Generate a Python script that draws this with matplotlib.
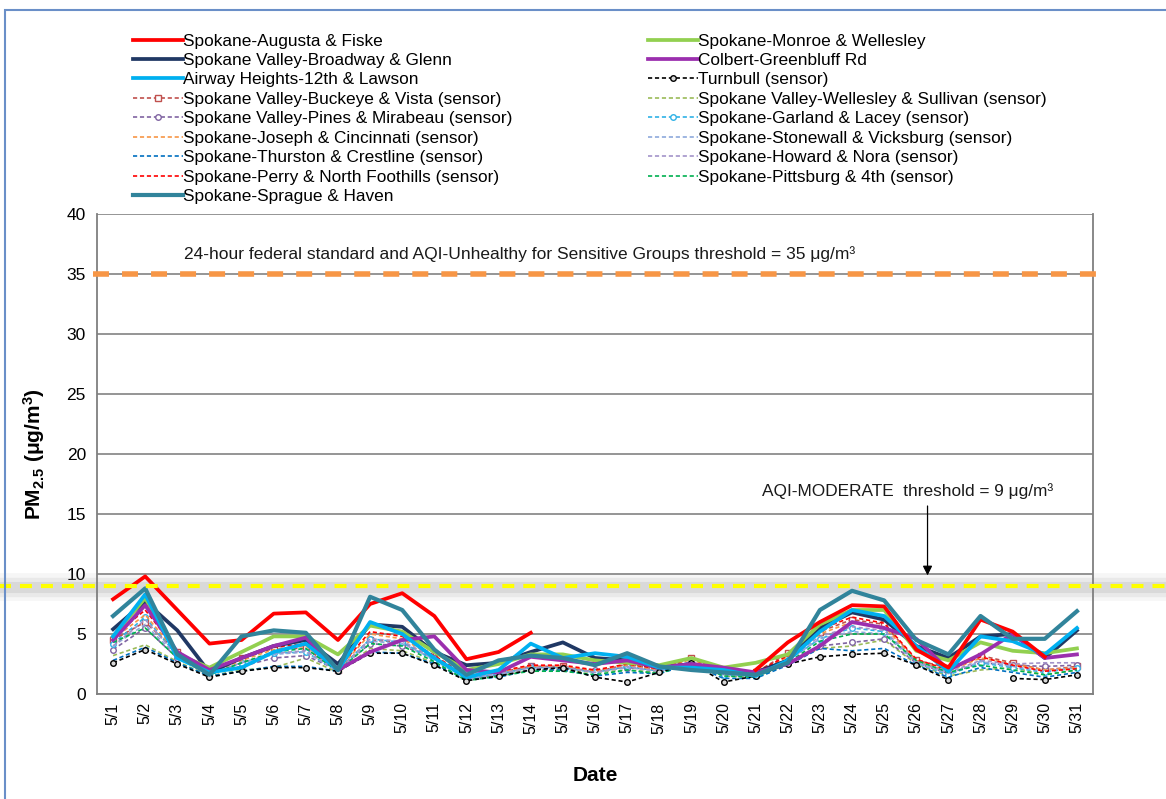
import numpy as np
import matplotlib
matplotlib.use("Agg")
import matplotlib.pyplot as plt
from matplotlib.patches import Rectangle

plt.rcParams['font.family'] = ['Liberation Sans', 'DejaVu Sans']
plt.rcParams['mathtext.fontset'] = 'custom'
plt.rcParams['mathtext.rm'] = 'Liberation Sans'
plt.rcParams['mathtext.bf'] = 'Liberation Sans:bold'
plt.rcParams['mathtext.default'] = 'bf'
plt.rcParams['lines.scale_dashes'] = False

nan = np.nan
dates = [f"5/{d}" for d in range(1, 32)]

augusta = [7.9, 9.8, 7.0, 4.2, 4.5, 6.7, 6.8, 4.5, 7.5, 8.4, 6.5, 2.9, 3.5, 5.1,
           nan, nan, nan, nan, nan, nan, 2.0, 4.3, 6.0, 7.4, 7.3, 3.7, 2.2, 6.2, 5.2, 3.1, nan]
monroe = [4.8, 8.0, 3.3, 2.2, 3.5, 4.8, 4.8, 3.3, 5.7, 5.2, 3.5, 2.0, 2.5, 3.3, 3.3,
          2.8, 2.6, 2.4, 3.0, 2.2, 2.6, 3.3, 5.8, 7.0, 7.0, 3.6, 2.8, 4.3, 3.6, 3.4, 3.8]
broadway = [5.4, 7.7, 5.3, 1.8, 3.0, 4.0, 4.5, 2.5, 5.8, 5.6, 3.5, 2.4, 2.6, 3.5, 4.3,
            3.0, 2.8, 2.2, 2.5, 1.8, 1.8, 2.8, 5.5, 6.8, 6.2, 4.0, 3.0, 4.8, 5.0, 3.0, 5.3]
colbert = [4.5, 7.4, 3.5, 2.0, 3.0, 4.0, 4.7, 2.0, 3.5, 4.5, 4.8, 2.0, 1.8, 3.1, 2.8,
           2.5, 2.8, 2.2, 2.5, 2.2, 1.8, 2.5, 4.0, 6.0, 5.5, 4.6, 2.0, 3.3, 5.0, 3.0, 3.3]
airway = [4.8, 8.3, 3.0, 1.8, 2.2, 3.5, 4.2, 2.0, 6.0, 5.0, 3.0, 1.4, 2.0, 4.2, 3.0,
          3.4, 3.1, 2.2, 2.2, 2.0, 1.5, 2.8, 5.2, 7.0, 6.5, 4.0, 1.9, 4.8, 4.4, 3.3, 5.5]
turnbull = [2.6, 3.7, 2.5, 1.4, 1.9, 2.2, 2.2, 1.9, 3.4, 3.4, 2.4, 1.1, 1.5, 2.0, 2.2,
            1.4, 1.0, 1.8, 2.6, 1.0, 1.5, 2.5, 3.1, 3.3, 3.4, 2.4, 1.2, nan, 1.3, 1.2, 1.6]
buckeye = [4.5, 6.0, 3.5, 1.7, 3.0, 3.8, 3.8, 2.0, 4.5, 4.3, 3.0, 1.5, 1.8, 2.3, 2.3,
           1.8, 2.5, 2.0, 3.0, 1.8, 1.8, 3.4, 5.2, 6.2, 5.8, 2.8, 2.2, 3.2, 2.6, 2.0, 2.3]
wellesley_sullivan = [3.2, 4.1, 2.7, 1.5, 2.0, 2.2, 3.0, 1.8, 3.8, 3.6, 2.6, 1.2, 1.5, 2.0, 2.0,
                      1.8, 2.0, 1.8, 2.5, 1.5, 1.4, 2.5, 3.8, 4.0, 4.5, 2.5, 1.5, 2.0, 2.2, 1.6, 2.0]
pines = [3.7, 5.5, 3.0, 1.8, 2.3, 3.0, 3.2, 2.0, 4.2, 4.0, 3.0, 1.3, 1.6, 2.3, 2.2,
         2.0, 2.2, 2.0, 2.6, 1.6, 1.6, 2.6, 4.0, 4.3, 4.6, 2.6, 1.7, 2.6, 2.4, 2.3, 2.4]
garland = [4.2, 6.4, 3.2, 1.6, 2.6, 3.4, 3.5, 1.9, 4.6, 4.3, 2.8, 1.3, 1.7, 2.2, 2.2,
           1.8, 2.3, 1.9, 2.7, 1.6, 1.5, 2.8, 4.6, 5.5, 5.2, 2.6, 1.6, 2.6, 2.2, 1.8, 2.2]
joseph = [4.6, 6.6, 3.4, 1.7, 2.8, 3.7, 4.0, 2.0, 5.0, 4.6, 3.1, 1.5, 1.8, 2.3, 2.3,
          1.9, 2.4, 2.0, 2.9, 1.7, 1.7, 3.1, 5.0, 6.0, 5.6, 2.8, 1.9, 3.0, 2.5, 2.0, 2.2]
stonewall = [4.0, 5.8, 3.1, 1.6, 2.6, 3.3, 3.5, 1.9, 4.4, 4.2, 2.9, 1.3, 1.6, 2.2, 2.2,
             1.8, 2.2, 1.9, 2.7, 1.6, 1.5, 2.8, 4.6, 5.2, 5.0, 2.6, 1.7, 2.7, 2.3, 1.9, 2.2]
thurston = [2.8, 3.9, 2.6, 1.5, 1.9, 2.3, 2.3, 1.9, 3.5, 3.4, 2.5, 1.2, 1.4, 2.0, 2.0,
            1.5, 1.8, 1.7, 2.5, 1.3, 1.3, 2.4, 3.8, 3.6, 3.8, 2.4, 1.4, 2.2, 1.8, 1.4, 1.8]
howard = [4.0, 6.2, 3.2, 1.7, 2.6, 3.4, 3.6, 1.9, 4.6, 4.4, 3.0, 1.4, 1.7, 2.2, 2.2,
          1.8, 2.3, 1.9, 2.7, 1.6, 1.6, 2.9, 4.8, 5.6, 5.3, 2.7, 1.8, 2.8, 2.5, 2.6, 2.6]
perry = [4.8, 7.0, 3.6, 1.8, 3.0, 3.9, 4.2, 2.1, 5.2, 4.8, 3.2, 1.5, 1.9, 2.4, 2.4,
         2.0, 2.5, 2.1, 3.0, 1.8, 1.8, 3.2, 5.4, 6.4, 5.9, 2.9, 2.0, 3.1, 2.4, 1.9, 2.1]
pittsburg = [4.3, 5.5, 3.0, 1.6, 2.6, 3.5, 3.8, 1.9, 4.2, 4.0, 2.7, 1.1, 1.5, 1.9, 1.9,
             1.6, 2.0, 1.7, 2.6, 1.5, 1.4, 2.6, 4.4, 5.0, 5.0, 2.8, 1.8, 2.4, 2.0, 1.6, 2.0]
sprague = [6.5, 8.8, 3.3, 1.6, 4.8, 5.3, 5.1, 2.0, 8.1, 7.0, 3.7, 1.6, 2.8, 3.2, 3.0,
           2.4, 3.4, 2.3, 2.0, 1.8, 1.6, 2.6, 7.0, 8.6, 7.8, 4.5, 3.3, 6.5, 4.6, 4.6, 6.9]

federal_std = 35
moderate = 9

fig = plt.figure(figsize=(11.66, 7.99), dpi=100)
W, H = 1166, 799
ax = fig.add_axes([97 / W, 1 - 694 / H, (1093 - 97) / W, (694 - 214) / H])

x = np.arange(len(dates))
sd = (0, (3, 2))

sensors = [
    ("Spokane Valley-Buckeye & Vista (sensor)", buckeye, '#C0504D', 's'),
    ("Spokane Valley-Wellesley & Sullivan (sensor)", wellesley_sullivan, '#9BBB59', None),
    ("Spokane Valley-Pines & Mirabeau (sensor)", pines, '#8064A2', 'o'),
    ("Spokane-Garland & Lacey (sensor)", garland, '#2FB2E6', 'o'),
    ("Spokane-Joseph & Cincinnati (sensor)", joseph, '#F79646', None),
    ("Spokane-Stonewall & Vicksburg (sensor)", stonewall, '#8EA9DB', None),
    ("Spokane-Thurston & Crestline (sensor)", thurston, '#0070C0', None),
    ("Spokane-Howard & Nora (sensor)", howard, '#A393C9', None),
    ("Spokane-Perry & North Foothills (sensor)", perry, '#FF0000', None),
    ("Spokane-Pittsburg & 4th (sensor)", pittsburg, '#00B050', None),
    ("Turnbull (sensor)", turnbull, '#000000', 'o'),
]
handles = {}
for name, vals, col, mk in sensors:
    kw = {}
    if mk:
        kw = dict(marker=mk, markersize=4, markerfacecolor='#D9D9D9' if col == '#000000' else 'white',
                  markeredgecolor=col, markeredgewidth=1.0)
    ln, = ax.plot(x, vals, color=col, lw=1.2, linestyle=sd, label=name, zorder=3, **kw)
    handles[name] = ln

solids = [
    ("Spokane Valley-Broadway & Glenn", broadway, '#203864', 2.7),
    ("Spokane-Monroe & Wellesley", monroe, '#92D050', 2.7),
    ("Colbert-Greenbluff Rd", colbert, '#9B2FAE', 2.7),
    ("Airway Heights-12th & Lawson", airway, '#00B0F0', 2.7),
    ("Spokane-Augusta & Fiske", augusta, '#FF0000', 2.7),
    ("Spokane-Sprague & Haven", sprague, '#31849B', 3.0),
]
for name, vals, col, lw in solids:
    ln, = ax.plot(x, vals, color=col, lw=lw, label=name, zorder=4)
    handles[name] = ln

# threshold lines
ax.axhline(federal_std, xmin=-0.004, xmax=1.005, color='#F79646', lw=4,
           dashes=(11.5, 9.4), zorder=5, clip_on=False)
for w, a in [(20, 0.07), (14, 0.10), (8, 0.15)]:
    ax.axhline(moderate - 0.1, xmin=-0.1, xmax=1.08, color='#808080', lw=w,
               alpha=a, zorder=2, clip_on=False, solid_capstyle='butt')
ax.axhline(moderate, xmin=-0.1, xmax=1.08, color='#FFFF00', lw=3,
           dashes=(8.6, 6.5), zorder=5, clip_on=False)

ax.text(2.2, 36.7, "24-hour federal standard and AQI-Unhealthy for Sensitive Groups threshold = 35 \u03bcg/m\u00b3",
        fontsize=12.5, va='center', ha='left', color='#1a1a1a')
ax.text(20.2, 16.9, "AQI-MODERATE  threshold = 9 \u03bcg/m\u00b3",
        fontsize=12.4, va='center', ha='left', color='#1a1a1a')
ax.annotate("", xy=(25.35, 9.65), xytext=(25.35, 15.9),
            arrowprops=dict(arrowstyle='-|>', color='black', lw=0.9, mutation_scale=14))

ax.set_xlim(-0.5, len(dates) - 0.5)
ax.set_ylim(0, 40)
ax.set_yticks(range(0, 41, 5))
ax.set_xticks(x)
ax.set_xticklabels(dates, rotation=90, fontsize=11.5)
ax.tick_params(axis='y', labelsize=12.5, length=0, pad=8)
ax.tick_params(axis='x', length=0, pad=6)
ax.grid(axis='y', color='#8C8C8C', lw=1.3, zorder=1)
ax.set_axisbelow(True)
for s in ax.spines.values():
    s.set_color('#7F7F7F')
    s.set_linewidth(1.3)
ax.spines['top'].set_visible(False)

ax.set_ylabel("PM$_{2.5}$ (\u03bcg/m$^{3}$)", fontsize=15, fontweight='bold', labelpad=14)
ax.set_xlabel("Date", fontsize=15, fontweight='bold', labelpad=23)

left_names = ["Spokane-Augusta & Fiske", "Spokane Valley-Broadway & Glenn",
              "Airway Heights-12th & Lawson", "Spokane Valley-Buckeye & Vista (sensor)",
              "Spokane Valley-Pines & Mirabeau (sensor)", "Spokane-Joseph & Cincinnati (sensor)",
              "Spokane-Thurston & Crestline (sensor)", "Spokane-Perry & North Foothills (sensor)",
              "Spokane-Sprague & Haven"]
right_names = ["Spokane-Monroe & Wellesley", "Colbert-Greenbluff Rd", "Turnbull (sensor)",
               "Spokane Valley-Wellesley & Sullivan (sensor)", "Spokane-Garland & Lacey (sensor)",
               "Spokane-Stonewall & Vicksburg (sensor)", "Spokane-Howard & Nora (sensor)",
               "Spokane-Pittsburg & 4th (sensor)"]
legkw = dict(frameon=False, fontsize=12.4, handlelength=2.9, handletextpad=0.02,
             labelspacing=0.255, borderpad=0, borderaxespad=0, loc='upper left')
l1 = fig.legend([handles[n] for n in left_names], left_names,
                bbox_to_anchor=(133 / W, 1 - 33.5 / H), **legkw)
l2 = fig.legend([handles[n] for n in right_names], right_names,
                bbox_to_anchor=(648 / W, 1 - 33.5 / H), **legkw)

fig.add_artist(Rectangle((5 / W, -0.1), 1.2, 1.1 - 10 / H, transform=fig.transFigure,
                         fill=False, edgecolor='#6A8FC8', lw=1.5))

fig.savefig("out.png", dpi=100, facecolor='white')
